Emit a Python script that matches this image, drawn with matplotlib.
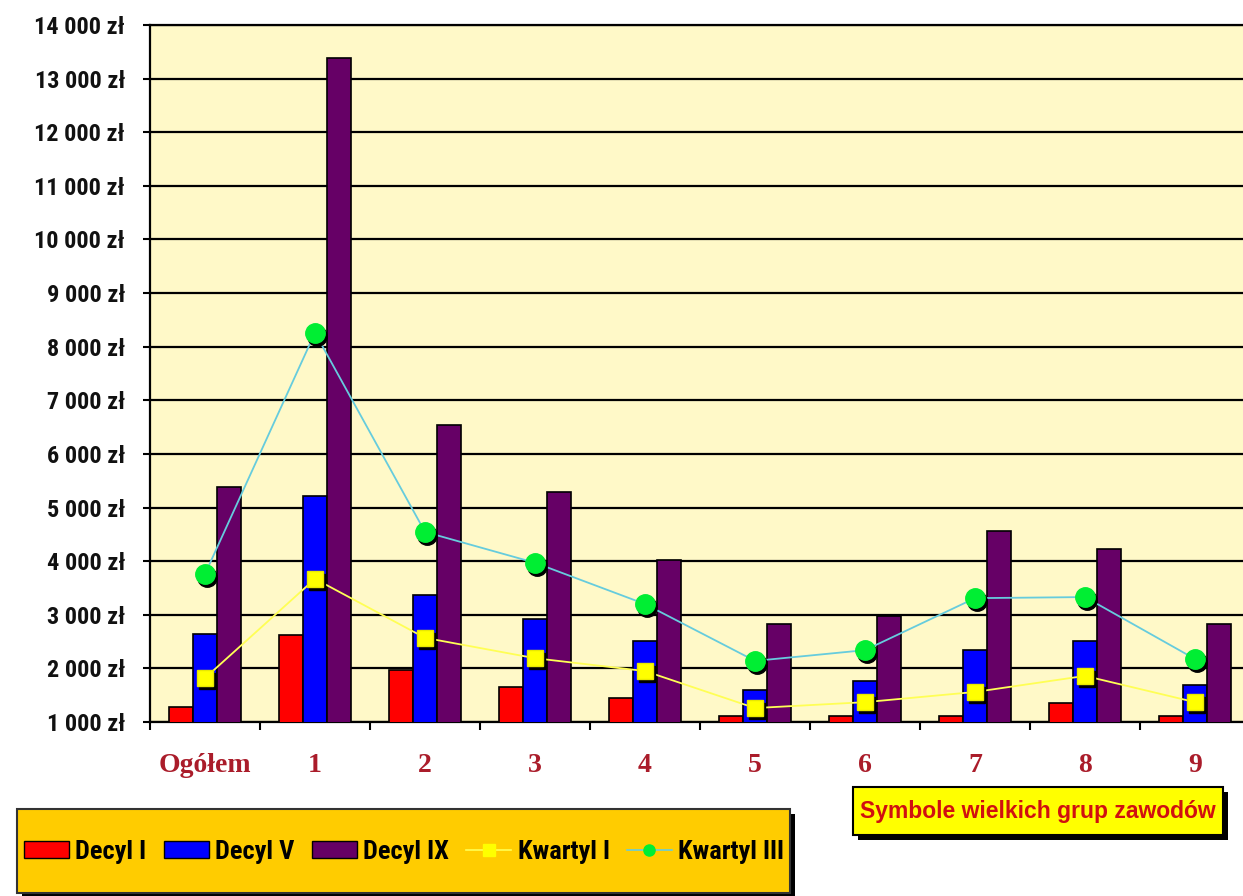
import matplotlib
matplotlib.use("Agg")
import matplotlib.pyplot as plt
import numpy as np
from matplotlib import font_manager as fm
from matplotlib.patches import Rectangle, Patch
from matplotlib.lines import Line2D
from matplotlib.transforms import offset_copy, Bbox

# ---------------- data ----------------
categories = ['Ogółem', '1', '2', '3', '4', '5', '6', '7', '8', '9']
decyl_1 = [1280, 2620, 1970, 1650, 1450, 1110, 1110, 1110, 1350, 1110]
decyl_5 = [2640, 5220, 3370, 2920, 2510, 1600, 1770, 2340, 2510, 1690]
decyl_9 = [5380, 13390, 6540, 5290, 4020, 2830, 2980, 4560, 4230, 2830]
kwartyl_1 = [1820, 3670, 2570, 2190, 1950, 1260, 1370, 1560, 1860, 1370]
kwartyl_3 = [3760, 8260, 4545, 3970, 3200, 2140, 2340, 3310, 3330, 2175]
y_ticks = list(range(1000, 15000, 1000))
series_names = ['Decyl I', 'Decyl V', 'Decyl IX', 'Kwartyl I', 'Kwartyl III']
note_text = 'Symbole wielkich grup zawodów'

# ---------------- fonts ----------------
names = {f.name for f in fm.fontManager.ttflist}
narrow = next((n for n in ['Liberation Sans Narrow', 'Arial Narrow', 'Roboto Condensed',
                           'Open Sans Condensed'] if n in names), None)
sans = 'Liberation Sans' if 'Liberation Sans' in names else 'DejaVu Sans'
serif = 'Liberation Serif' if 'Liberation Serif' in names else 'DejaVu Serif'
ylab_font = narrow if narrow else sans
ylab_size = 17.5 if narrow else 13.5
leg_size = 19 if narrow else 16

W, H = 1243, 896
fig = plt.figure(figsize=(W / 100, H / 100), dpi=100)
fig.patch.set_facecolor('white')

ax = fig.add_axes([150 / W, 174 / H, 1100 / W, 697 / H])
ax.set_facecolor('#FFF9C8')

x = np.arange(len(categories))
bw = 0.218
ax.bar(x - bw, decyl_1, bw, color='#FF0000', edgecolor='black', linewidth=1.2, zorder=3)
ax.bar(x, decyl_5, bw, color='#0000FF', edgecolor='black', linewidth=1.2, zorder=3)
ax.bar(x + bw, decyl_9, bw, color='#660066', edgecolor='black', linewidth=1.2, zorder=3)

shadow_tr = offset_copy(ax.transData, fig=fig, x=2, y=-3, units='dots')
# Kwartyl I
ax.plot(x, kwartyl_1, color='#FFFF55', lw=1.3, zorder=4)
ax.plot(x, kwartyl_1, ls='none', marker='s', ms=11, color='black', transform=shadow_tr, zorder=5)
ax.plot(x, kwartyl_1, ls='none', marker='s', ms=11, color='#FFFF00', mec='#E8E800', zorder=6)
# Kwartyl III
ax.plot(x, kwartyl_3, color='#66CCDD', lw=1.3, zorder=4)
ax.plot(x, kwartyl_3, ls='none', marker='o', ms=14, color='black', transform=shadow_tr, zorder=5)
ax.plot(x, kwartyl_3, ls='none', marker='o', ms=14, color='#00EE33', mec='#00EE33', zorder=6)

ax.set_xlim(-0.5, len(categories) - 0.5)
ax.set_ylim(1000, 14000)
ax.set_yticks(y_ticks)
ax.set_yticklabels([f"{v:,}".replace(',', ' ') + ' zł' for v in y_ticks],
                   fontfamily=ylab_font, fontweight='bold', fontsize=ylab_size, color='#111111')
ax.yaxis.grid(True, color='black', lw=1.6, zorder=1)
ax.set_axisbelow(True)
ax.tick_params(axis='y', length=5, width=1.5, pad=13, color='black')

ax.set_xticks(np.arange(-0.5, len(categories), 1.0))
ax.set_xticklabels([])
ax.tick_params(axis='x', which='major', direction='out', length=6, width=1.5, color='black')
ax.set_xticks(x, minor=True)
ax.set_xticklabels(categories, minor=True, fontfamily=serif, fontweight='bold',
                   fontsize=20, color='#AA1C2A')
ax.tick_params(axis='x', which='minor', length=0, pad=22)

for s in ['left', 'bottom', 'top']:
    ax.spines[s].set_color('black')
    ax.spines[s].set_linewidth(1.6)
ax.spines['right'].set_visible(False)

# ---------------- legend box ----------------
lx0, ly0, lx1, ly1 = 17, 3, 790, 87
fig.patches.append(Rectangle((lx0 + 5, ly0 - 5), lx1 - lx0, ly1 - ly0, transform=None,
                             facecolor='black', edgecolor='none', zorder=1))
fig.patches.append(Rectangle((lx0, ly0), lx1 - lx0, ly1 - ly0, transform=None,
                             facecolor='#FFCC00', edgecolor='#333333', lw=1.5, zorder=2))
handles = [Patch(facecolor='#FF0000', edgecolor='black'),
           Patch(facecolor='#0000FF', edgecolor='black'),
           Patch(facecolor='#660066', edgecolor='black'),
           Line2D([], [], color='#FFFF55', lw=1.2, marker='s', ms=9, mfc='#FFFF00', mec='#FFFF00'),
           Line2D([], [], color='#66CCDD', lw=1.2, marker='o', ms=8, mfc='#00EE33', mec='#00EE33')]
leg = fig.legend(handles, series_names, loc='center left', bbox_to_anchor=(24 / W, 44 / H),
                 frameon=False, ncol=5, prop={'family': ylab_font, 'weight': 'bold',
                                              'size': leg_size},
                 handlelength=1.7, handleheight=0.6, handletextpad=0.25, columnspacing=0.65,
                 borderpad=0, borderaxespad=0)
leg.set_zorder(3)
clip = Bbox.from_extents(lx0, ly0, lx1, ly1)
for t in leg.get_texts():
    t.set_clip_box(clip)
    t.set_clip_on(True)

# ---------------- note box ----------------
nx0, ny0, nx1, ny1 = 853, 61, 1223, 109
fig.patches.append(Rectangle((nx0 + 5, ny0 - 5), nx1 - nx0, ny1 - ny0, transform=None,
                             facecolor='black', edgecolor='none', zorder=1))
fig.patches.append(Rectangle((nx0, ny0), nx1 - nx0, ny1 - ny0, transform=None,
                             facecolor='#FFFF00', edgecolor='black', lw=1.5, zorder=2))
fig.text((nx0 + nx1) / 2 / W, (ny0 + ny1) / 2 / H, note_text, ha='center', va='center',
         fontfamily=sans, fontweight='bold', fontsize=16.5, color='#D01010', zorder=3)

fig.savefig('out.png', dpi=100)
